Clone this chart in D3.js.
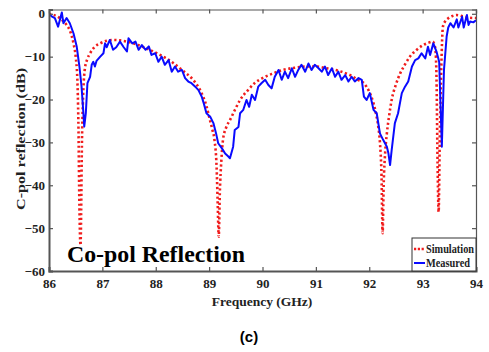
<!DOCTYPE html>
<html>
<head>
<meta charset="utf-8">
<script src="https://cdn.jsdelivr.net/npm/d3@7"></script>
<style>
  body { margin: 0; background: #fff; }
  svg text { font-family: "Liberation Serif", "DejaVu Serif", serif; font-weight: bold; }
</style>
</head>
<body>
<script>
// Simulation (red dotted) - frequency (GHz) and reflection (dB)
const simFreq = [86.00, 86.15, 86.25, 86.33, 86.40, 86.46, 86.50, 86.53, 86.55, 86.57, 86.59, 86.62, 86.67, 86.72, 86.77, 86.85, 86.96, 87.08, 87.20, 87.33, 87.46, 87.65, 87.83, 88.05, 88.33, 88.50, 88.70, 88.80, 88.89, 88.95, 89.00, 89.06, 89.10, 89.14, 89.16, 89.18, 89.20, 89.23, 89.26, 89.32, 89.39, 89.48, 89.58, 89.73, 89.85, 90.00, 90.20, 90.38, 90.60, 90.83, 91.00, 91.20, 91.45, 91.64, 91.80, 91.90, 92.00, 92.08, 92.13, 92.17, 92.20, 92.23, 92.25, 92.27, 92.30, 92.33, 92.37, 92.42, 92.50, 92.58, 92.67, 92.76, 92.88, 93.01, 93.10, 93.19, 93.22, 93.24, 93.26, 93.28, 93.30, 93.32, 93.35, 93.38, 93.42, 93.48, 93.56, 93.64, 93.75, 93.85, 94.00];
const simDb = [0, -0.6, -1.5, -2.6, -4.2, -7, -10, -15, -25, -45, -54, -28, -13, -10.5, -9.2, -7.8, -6.9, -6.3, -6.1, -6.2, -6.5, -7.2, -8.1, -9.4, -11.5, -13.2, -15.4, -17.1, -19.4, -21.5, -24, -27, -29.4, -35.7, -44, -52, -42, -34, -29.4, -26.5, -24.8, -22.5, -20.1, -17.8, -16.2, -15, -13.9, -13.1, -12.6, -12.3, -12.3, -12.7, -13.4, -14.3, -15.5, -16.2, -18.2, -20.9, -23.5, -26.4, -30, -38, -51.2, -40, -32, -27.9, -24, -20.1, -16.5, -13.9, -11.8, -10, -8.5, -7.3, -6.8, -6.5, -7.2, -8.4, -15, -35, -46.2, -30, -12.3, -3, -1.8, -1.05, -0.5, -0.3, -0.6, -0.9, -1];

// Measured (blue solid)
const measFreq = [86.00, 86.05, 86.11, 86.17, 86.24, 86.27, 86.33, 86.39, 86.46, 86.52, 86.57, 86.61, 86.64, 86.66, 86.69, 86.72, 86.77, 86.80, 86.83, 86.86, 86.89, 86.96, 87.02, 87.05, 87.08, 87.14, 87.20, 87.26, 87.33, 87.40, 87.46, 87.49, 87.56, 87.62, 87.68, 87.74, 87.81, 87.87, 87.92, 87.99, 88.05, 88.11, 88.17, 88.24, 88.30, 88.36, 88.42, 88.49, 88.55, 88.61, 88.67, 88.74, 88.80, 88.86, 88.90, 88.95, 89.02, 89.08, 89.13, 89.17, 89.24, 89.30, 89.36, 89.39, 89.45, 89.48, 89.55, 89.58, 89.64, 89.70, 89.75, 89.80, 89.86, 89.92, 89.98, 90.05, 90.11, 90.17, 90.23, 90.30, 90.36, 90.42, 90.48, 90.55, 90.61, 90.67, 90.73, 90.80, 90.86, 90.92, 90.98, 91.05, 91.11, 91.17, 91.23, 91.30, 91.36, 91.42, 91.48, 91.55, 91.61, 91.67, 91.73, 91.80, 91.86, 91.90, 91.95, 92.01, 92.08, 92.14, 92.20, 92.26, 92.33, 92.36, 92.39, 92.42, 92.48, 92.54, 92.61, 92.67, 92.73, 92.80, 92.86, 92.92, 92.98, 93.05, 93.10, 93.14, 93.20, 93.26, 93.31, 93.36, 93.40, 93.45, 93.48, 93.52, 93.58, 93.64, 93.67, 93.74, 93.77, 93.83, 93.86, 93.89, 93.95, 94.00];
const measDb = [0, -0.6, -1, -3, 0.3, -2.2, -1, -2.2, -4.6, -7.7, -12.3, -17, -22.4, -26.3, -23.2, -16.2, -14.7, -11.9, -11.2, -12.3, -11, -10, -9.2, -6.9, -7.8, -6.1, -8.4, -7.8, -6.5, -7.8, -8.8, -5.7, -6.9, -6.5, -8.4, -7.3, -8.4, -7.6, -9.6, -9.2, -11.2, -10, -11.9, -10.8, -13.5, -12.3, -13.5, -13.1, -15, -15.8, -16.2, -17, -17.8, -19.3, -20.9, -23.2, -24, -25.5, -27.9, -30.2, -31.4, -32.6, -33.3, -33.7, -31, -27.1, -26.4, -23.2, -22.4, -20.1, -21.7, -18.9, -20.1, -17, -16.2, -15.4, -16.6, -17.4, -14.7, -13.1, -15.4, -13.5, -15, -12.7, -14.7, -13.1, -11.9, -13.5, -11.6, -13.1, -11.9, -12.7, -13.5, -12.3, -14.3, -12.7, -14.7, -13.5, -15.4, -14.3, -15.8, -14.7, -15.8, -15, -15.4, -19.3, -20.1, -18.5, -22.4, -23.2, -27.9, -29.4, -31, -32.6, -35.3, -31.8, -25.5, -23.2, -18.5, -17, -15.8, -12.3, -10.8, -10.4, -9.2, -10.4, -7.7, -9.6, -6.9, -8.8, -11.2, -31, -13.1, -5.3, -3.2, -2.2, -3.2, -1.3, -3.2, -0.7, -3.2, -0.3, -2.6, -1.8, -2, -1.5];

const xTicks = [86, 87, 88, 89, 90, 91, 92, 93, 94];
const yTicks = [0, -10, -20, -30, -40, -50, -60];

const width = 489, height = 352;
const mLeft = 49, mRight = 476, mTop = 9.5, mBottom = 271;
const serif = '"Liberation Serif", "DejaVu Serif", serif';

const svg = d3.select('body').append('svg')
    .attr('width', width)
    .attr('height', height);

const x = d3.scaleLinear().domain([86, 94]).range([mLeft, mRight]);
const y = d3.scaleLinear().domain([-60, 1]).range([mBottom, mTop]);

// clip so the curves stay inside the box
svg.append('clipPath').attr('id', 'plotclip')
  .append('rect').attr('x', mLeft).attr('y', mTop).attr('width', mRight - mLeft).attr('height', mBottom - mTop);

const plot = svg.append('g').attr('clip-path', 'url(#plotclip)');

plot.append('path')
    .datum(simFreq.map((f, i) => [f, simDb[i]]))
    .attr('d', d3.line().x(d => x(d[0])).y(d => y(d[1])).curve(d3.curveMonotoneX))
    .attr('fill', 'none')
    .attr('stroke', '#f01c1c')
    .attr('stroke-width', 2.6)
    .attr('stroke-dasharray', '2.2,2.6');

plot.append('path')
    .datum(measFreq.map((f, i) => [f, measDb[i]]))
    .attr('d', d3.line().x(d => x(d[0])).y(d => y(d[1])))
    .attr('fill', 'none')
    .attr('stroke', '#0a0aff')
    .attr('stroke-width', 2)
    .attr('stroke-linejoin', 'round');

// axes (ticks pointing inward)
const axisColor = '#555';
const gx = svg.append('g').attr('transform', `translate(0,${mBottom})`)
    .call(d3.axisBottom(x).tickValues(xTicks).tickSize(-4).tickPadding(8).tickFormat(d3.format('d')));
const gxt = svg.append('g').attr('transform', `translate(0,${mTop})`)
    .call(d3.axisTop(x).tickValues(xTicks).tickSize(-4).tickFormat(''));
const gy = svg.append('g').attr('transform', `translate(${mLeft},0)`)
    .call(d3.axisLeft(y).tickValues(yTicks).tickSize(-4).tickPadding(4).tickFormat(d3.format('d')));
const gyr = svg.append('g').attr('transform', `translate(${mRight},0)`)
    .call(d3.axisRight(y).tickValues(yTicks).tickSize(-4).tickFormat(''));

[gx, gy].forEach(g => {
  g.attr('font-family', serif).attr('font-size', 13);
  g.select('.domain').attr('stroke', axisColor).attr('stroke-width', 2);
  g.selectAll('.tick line').attr('stroke', axisColor).attr('stroke-width', 1.2);
  g.selectAll('.tick text').attr('fill', '#222').style('font-size', '13px')
    .style('font-family', serif).style('font-weight', 'bold');
});
[gxt, gyr].forEach(g => {
  g.select('.domain').attr('stroke', axisColor).attr('stroke-width', 1.2);
  g.selectAll('.tick line').attr('stroke', axisColor).attr('stroke-width', 1.2);
});

// axis titles
svg.append('text')
    .attr('x', 262)
    .attr('y', 306)
    .attr('text-anchor', 'middle')
    .attr('fill', '#222')
    .style('font-size', '13.5px')
    .text('Frequency (GHz)');

svg.append('text')
    .attr('transform', 'translate(25,139) rotate(-90)')
    .attr('text-anchor', 'middle')
    .attr('fill', '#222')
    .attr('textLength', 142)
    .attr('lengthAdjust', 'spacingAndGlyphs')
    .style('font-size', '13.5px')
    .text('C-pol reflection (dB)');

// annotation
svg.append('text')
    .attr('x', 67)
    .attr('y', 262)
    .attr('fill', '#000')
    .attr('textLength', 178)
    .attr('lengthAdjust', 'spacingAndGlyphs')
    .style('font-size', '23px')
    .text('Co-pol Reflection');

// legend
const lg = svg.append('g');
lg.append('rect')
    .attr('x', 412).attr('y', 238).attr('width', mRight - 412).attr('height', mBottom - 238)
    .attr('fill', '#fff').attr('stroke', '#333').attr('stroke-width', 1);
lg.append('line')
    .attr('x1', 414).attr('x2', 425).attr('y1', 249).attr('y2', 249)
    .attr('stroke', '#f01c1c').attr('stroke-width', 2.6).attr('stroke-dasharray', '2.2,1.6');
lg.append('text').attr('x', 426).attr('y', 253).attr('textLength', 48).attr('lengthAdjust', 'spacingAndGlyphs')
    .style('font-size', '12px').attr('fill', '#222').text('Simulation');
lg.append('line')
    .attr('x1', 414).attr('x2', 425).attr('y1', 263).attr('y2', 263)
    .attr('stroke', '#0a0aff').attr('stroke-width', 2);
lg.append('text').attr('x', 426).attr('y', 267).attr('textLength', 44).attr('lengthAdjust', 'spacingAndGlyphs')
    .style('font-size', '12px').attr('fill', '#222').text('Measured');

// sub caption
svg.append('text')
    .attr('x', 249)
    .attr('y', 342)
    .attr('text-anchor', 'middle')
    .attr('fill', '#000')
    .style('font-family', '"Liberation Sans", Arial, sans-serif')
    .style('font-size', '15px')
    .text('(c)');
</script>
</body>
</html>
